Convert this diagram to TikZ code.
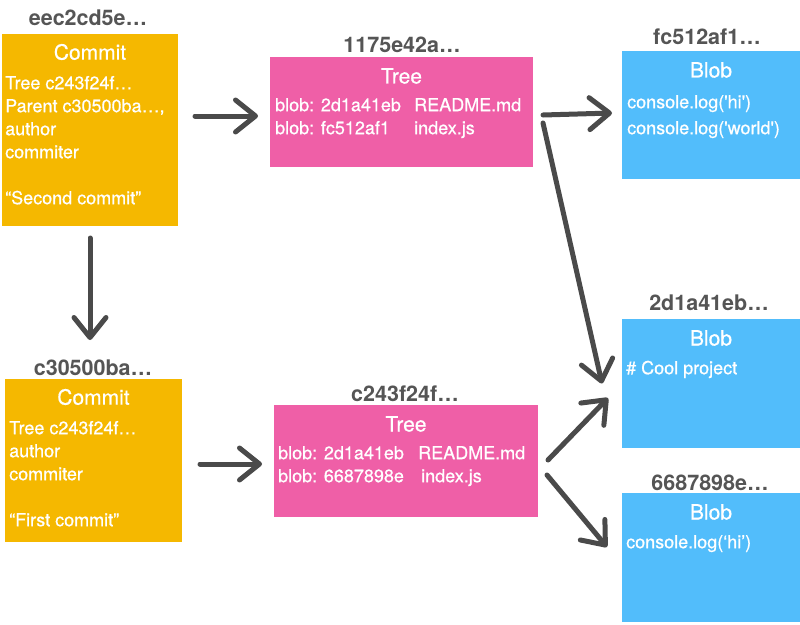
\documentclass[tikz,border=0pt]{standalone}
\usepackage{fontspec}
\setmainfont{TeX Gyre Heros}
\newfontfamily\heavyfont[FakeBold=0.6]{TeX Gyre Heros}
\usetikzlibrary{arrows.meta,calc}
\definecolor{cyel}{HTML}{F5B800}
\definecolor{cpink}{HTML}{EF5FA7}
\definecolor{cblue}{HTML}{52BDFB}
\definecolor{chdr}{HTML}{555555}
\definecolor{carr}{HTML}{4A4A4A}
\begin{document}
\begin{tikzpicture}[x=1pt,y=-1pt,
 box/.style={draw=none,inner sep=0,outer sep=0,anchor=north west},
 commitbox/.style={box,fill=cyel},
 treebox/.style={box,fill=cpink},
 blobbox/.style={box,fill=cblue},
 hdr/.style={text=chdr,font=\fontsize{21.5}{24}\selectfont\bfseries,inner sep=0},
 ttl/.style={text=white,font=\heavyfont\fontsize{21}{24}\selectfont,inner sep=0},
 body/.style={text=white,font=\heavyfont\fontsize{18}{23}\selectfont,inner sep=0,anchor=north west,align=left},
 blobbody/.style={body,font=\heavyfont\fontsize{18}{26}\selectfont},
 arr/.style={draw=carr,line width=5pt,line cap=round,-{Straight Barb[length=20pt,width=32pt,round]}}
]
\useasboundingbox[fill=white] (0,0) rectangle (800,624);

% boxes
\node[commitbox,minimum width=176pt,minimum height=192pt] (c1) at (2,34) {};
\node[treebox,minimum width=263pt,minimum height=110pt] (t1) at (270,57) {};
\node[blobbox,minimum width=178pt,minimum height=128pt] (b1) at (622,51) {};
\node[blobbox,minimum width=178pt,minimum height=129pt] (b2) at (622,319) {};
\node[blobbox,minimum width=178pt,minimum height=129pt] (b3) at (622,493) {};
\node[commitbox,minimum width=177pt,minimum height=163pt] (c2) at (5,379) {};
\node[treebox,minimum width=264pt,minimum height=112pt] (t2) at (274,405) {};

% headers
\node[hdr] (h1) at (88,18) {eec2cd5e…};
\node[hdr] (h2) at (402,45) {1175e42a…};
\node[hdr] (h3) at (707,37) {fc512af1…};
\node[hdr] (h4) at (709,303) {2d1a41eb…};
\node[hdr] (h5) at (710,483) {6687898e…};
\node[hdr] (h6) at (93,368) {c30500ba…};
\node[hdr] (h7) at (405,394) {c243f24f…};

% titles
\node[ttl] (c1t) at ($(c1.north)+(0,18)$) {Commit};
\node[ttl] (c2t) at ($(c2.north)+(0,18)$) {Commit};
\node[ttl] (t1t) at ($(t1.north)+(0,19)$) {Tree};
\node[ttl] (t2t) at ($(t2.north)+(0,19)$) {Tree};
\node[ttl] (b1t) at ($(b1.north)+(0,19)$) {Blob};
\node[ttl] (b2t) at ($(b2.north)+(0,19)$) {Blob};
\node[ttl] (b3t) at ($(b3.north)+(0,19)$) {Blob};

% bodies
\node[body] (c1b) at ($(c1.north west)+(3,41)$) {\rule{0pt}{14pt}Tree c243f24f…\\Parent c30500ba…,\\author\\commiter\\[23pt]“Second commit”};
\node[body] (c2b) at ($(c2.north west)+(4,41)$) {\rule{0pt}{14pt}Tree c243f24f…\\author\\commiter\\[23pt]“First commit”};
\node[body] (t1b) at ($(t1.north west)+(5,40)$) {\rule{0pt}{14pt}blob: 2d1a41eb\\blob: fc512af1};
\node[body] (t1c) at ($(t1.north west)+(144,40)$) {\rule{0pt}{14pt}README.md\\index.js};
\node[body] (t2b) at ($(t2.north west)+(4,40)$) {\rule{0pt}{14pt}blob: 2d1a41eb\\blob: 6687898e};
\node[body] (t2c) at ($(t2.north west)+(144,40)$) {\rule{0pt}{14pt}README.md\\\hspace*{3pt}index.js};
\node[blobbody] (b1b) at ($(b1.north west)+(5,43)$) {\rule{0pt}{14pt}console.log('hi')\\console.log('world')};
\node[body] (b2b) at ($(b2.north west)+(4,41)$) {\rule{0pt}{14pt}\# Cool project};
\node[body] (b3b) at ($(b3.north west)+(4,41)$) {\rule{0pt}{14pt}console.log(‘hi’)};

% connectors
\draw[arr] ($(c1.east)+(17,-14)$) -- ($(t1.west)+(-12,4)$);
\draw[arr] ($(c1.south)+(0,12)$) -- ($(c2.north)+(-3.5,-39)$);
\draw[arr] ($(c2.east)+(18,3.5)$) -- ($(t2.west)+(-12,3)$);
\draw[arr] ($(t1.east)+(10,3)$) -- ($(b1.west)+(-10,-2)$);
\draw[arr] ($(t1.east)+(10,11)$) -- ($(b2.west)+(-20,0)$);
\draw[arr] ($(t2.east)+(10,-1)$) -- ($(b2.west)+(-14,14.5)$);
\draw[arr] ($(t2.east)+(9,14)$) -- ($(b3.west)+(-15,-10.5)$);
\end{tikzpicture}
\end{document}
